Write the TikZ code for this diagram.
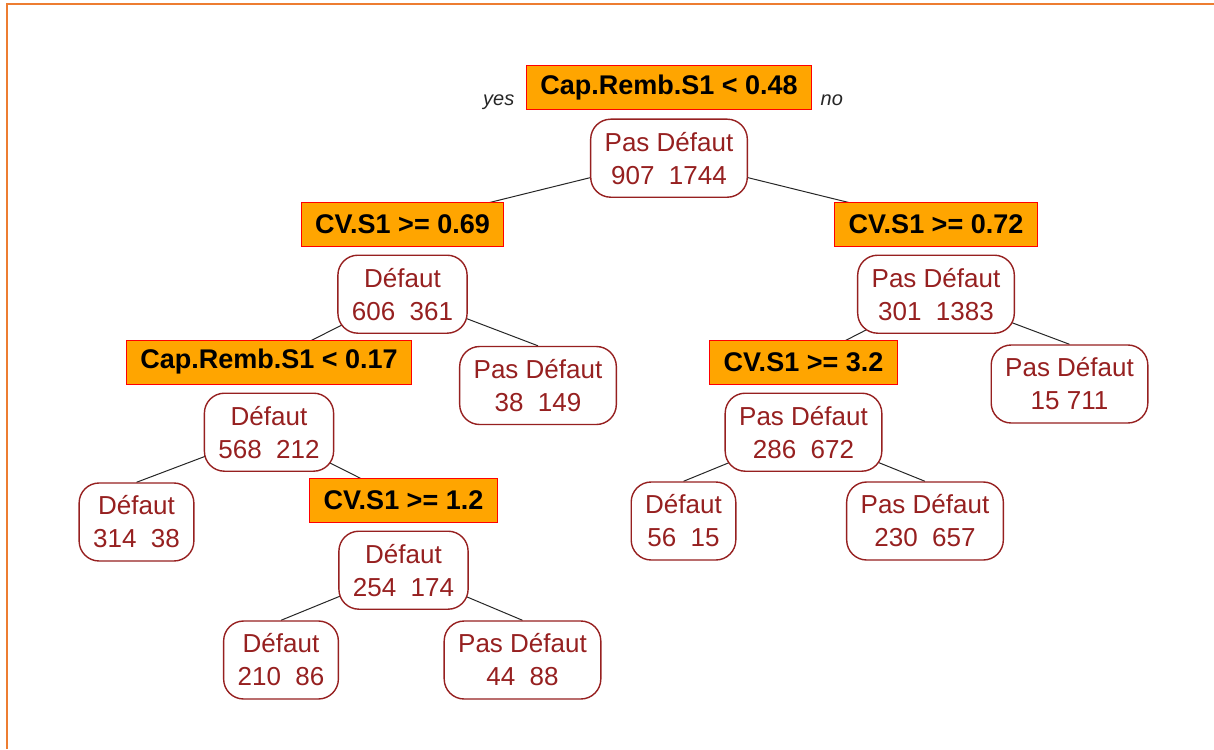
\documentclass[tikz,border=0pt]{standalone}
\usepackage{fontspec}
\setmainfont{Liberation Sans}
\definecolor{dred}{RGB}{150,32,32}
\definecolor{rorange}{RGB}{255,165,0}
\definecolor{frameorange}{RGB}{237,125,49}
\pgfdeclarelayer{bg}
\pgfsetlayers{bg,main}

\begin{document}
\begin{tikzpicture}[x=1pt,y=-1pt,
  split/.style={draw=red, fill=rorange, line width=1pt, inner xsep=14pt, inner ysep=0pt,
    minimum height=44pt, font=\fontsize{27}{33}\selectfont\bfseries},
  box/.style={draw=dred, fill=white, text=dred, line width=1.4pt, rounded corners=20pt,
    align=center, inner xsep=14pt, inner ysep=0pt, minimum height=78pt,
    font=\fontsize{26}{33}\selectfont},
  under/.style={anchor=north, yshift=-8pt},
  side/.style={text=black!85, font=\fontsize{20}{24}\selectfont\itshape, yshift=5pt},
  branch/.style={black!85, line width=1pt}]
  \useasboundingbox (0,0) rectangle (1214,749);
  \draw[frameorange, line width=2pt] (7,749) -- (7,4) -- (1214,4);

  \node[split] (q1) at (669,88) {Cap.Remb.S1 < 0.48};
  \node[side,anchor=base east] (yes) at ([xshift=-8pt]q1.south west) {yes};
  \node[side,anchor=base west] (no) at ([xshift=5pt]q1.south east) {no};
  \node[box,under] (n1) at (q1.south) {Pas Défaut\\907~~1744};

  \node[split] (q2) at (402.5,224) {CV.S1 >= 0.69};
  \node[box,under] (n2) at (q2.south) {Défaut\\606~~361};
  \node[split] (q3) at (936,224) {CV.S1 >= 0.72};
  \node[box,under] (n3) at (q3.south) {Pas Défaut\\301~~1383};

  \node[split] (q4) at (269,362) {Cap.Remb.S1 < 0.17};
  \node[box,under] (n4) at (q4.south) {Défaut\\568~~212};
  \node[box] (l1) at (538,385.5) {Pas Défaut\\38~~149};
  \node[split] (q5) at (803.5,362) {CV.S1 >= 3.2};
  \node[box,under] (n5) at (q5.south) {Pas Défaut\\286~~672};
  \node[box] (l2) at (1069.5,384) {Pas Défaut\\15 711};

  \node[box] (l3) at (136.5,522) {Défaut\\314~~38};
  \node[split] (q6) at (403.5,500) {CV.S1 >= 1.2};
  \node[box,under] (n6) at (q6.south) {Défaut\\254~~174};
  \node[box] (l6) at (683.5,521) {Défaut\\56~~15};
  \node[box] (l7) at (925,521) {Pas Défaut\\230~~657};

  \node[box] (l4) at (281,660) {Défaut\\210~~86};
  \node[box] (l5) at (522.5,660) {Pas Défaut\\44~~88};

  \begin{pgfonlayer}{bg}
    \draw[branch] (n1.center) edge (q2.center) edge (q3.center)
      (n2.center) edge (q4.center) edge (l1.north)
      (n4.center) edge (l3.north) edge (q6.center)
      (n6.center) edge (l4.north) edge (l5.north)
      (n3.center) edge (q5.center) edge (l2.north)
      (n5.center) edge (l6.north) edge (l7.north);
  \end{pgfonlayer}
\end{tikzpicture}
\end{document}
